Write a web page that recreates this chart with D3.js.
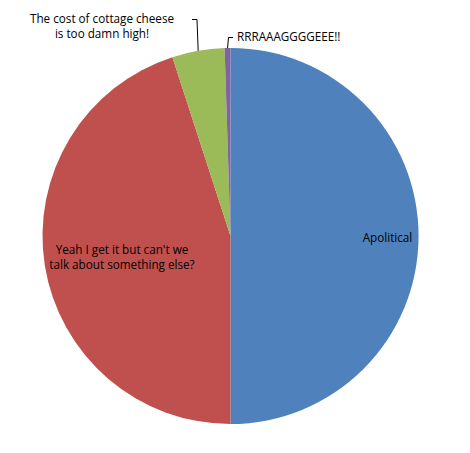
<!DOCTYPE html>
<html>
<head>
<meta charset="utf-8">
<script src="https://cdn.jsdelivr.net/npm/d3@7"></script>
<style>
  body { margin: 0; background: #fff; }
  text { font-family: "Open Sans", "DejaVu Sans", sans-serif; font-size: 11.7px; fill: #000; }
</style>
</head>
<body>
<div id="chart"></div>
<script>
const categories = ["Apolitical", "Yeah I get it but can't we talk about something else?", "The cost of cottage cheese is too damn high!", "RRRAAAGGGGEEE!!"];
const values = [50, 45, 4.5, 0.5];
const colors = ["#4F81BD", "#C0504D", "#9BBB59", "#8064A2"];

const WIDTH = 470, HEIGHT = 453;
const CX = 230.5, CY = 236, R = 188;

const svg = d3.select("#chart").append("svg")
    .attr("width", WIDTH)
    .attr("height", HEIGHT);

const pie = d3.pie().sort(null).value(d => d)(values);
const arc = d3.arc().innerRadius(0).outerRadius(R);

const g = svg.append("g").attr("transform", `translate(${CX},${CY})`);

g.selectAll("path")
    .data(pie)
    .enter().append("path")
    .attr("d", arc)
    .attr("fill", (d, i) => colors[i]);

// labels (positions picked by eye from the reference)
const labelSpecs = [
    {lines: ["Apolitical"], x: 387.5, y: 242, anchor: "middle"},
    {lines: ["Yeah I get it but can't we", "talk about something else?"], x: 122, y: 254, anchor: "middle"},
    {lines: ["The cost of cottage cheese", "is too damn high!"], x: 102, y: 23, anchor: "middle"},
    {lines: ["RRRAAAGGGGEEE!!"], x: 237, y: 41, anchor: "start"}
];

labelSpecs.forEach(spec => {
    const t = svg.append("text")
        .attr("text-anchor", spec.anchor)
        .attr("x", spec.x)
        .attr("y", spec.y);
    spec.lines.forEach((line, k) => {
        t.append("tspan").attr("x", spec.x).attr("dy", k === 0 ? 0 : 15).text(line);
    });
});

// leader lines for the two thin slices
const leader = (sliceIndex, startPoint, elbowX) => {
    const mid = (pie[sliceIndex].startAngle + pie[sliceIndex].endAngle) / 2;
    const px = CX + Math.sin(mid) * R;
    const py = CY - Math.cos(mid) * R;
    svg.append("path")
        .attr("d", `M${startPoint[0]},${startPoint[1]} L${elbowX},${startPoint[1]} L${px},${py}`)
        .attr("fill", "none")
        .attr("stroke", "#000")
        .attr("stroke-width", 1);
};
leader(2, [192, 19.5], 197);
leader(3, [233, 37.5], 228.5);
</script>
</body>
</html>
